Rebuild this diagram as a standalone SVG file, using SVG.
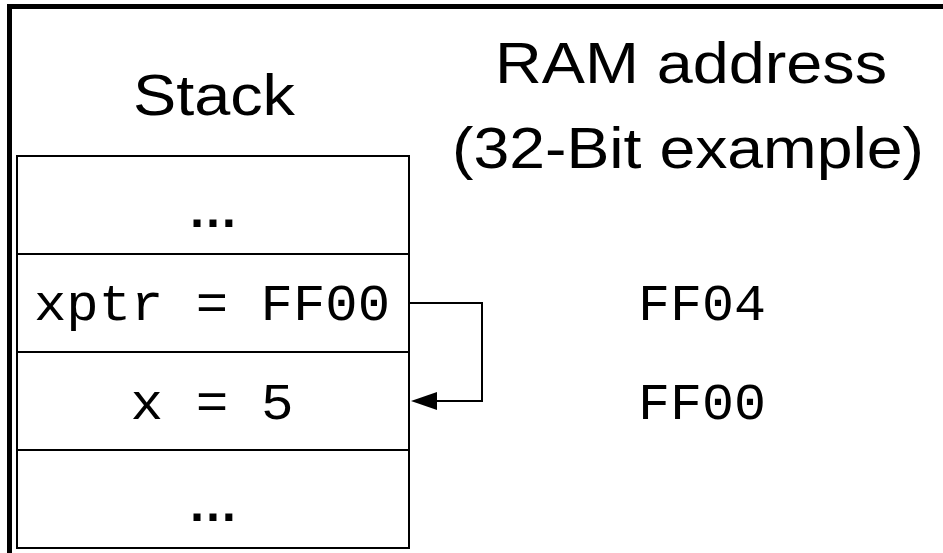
<svg xmlns="http://www.w3.org/2000/svg" width="943" height="553" viewBox="0 0 943 553">
<style>
.sans{font-family:"Liberation Sans",Arial,sans-serif;font-size:57px;fill:#000;text-anchor:middle}
.mono{font-family:"Liberation Mono","Courier New",monospace;font-size:52px;fill:#000;text-anchor:middle}
.dots{font-family:"Liberation Sans",Arial,sans-serif;font-size:50px;font-weight:bold;fill:#000;text-anchor:middle}
.cell{fill:#fff;stroke:#000;stroke-width:2}
.conn{fill:none;stroke:#000;stroke-width:2}
</style>
<rect width="943" height="553" fill="#fff"/>
<g id="frame">
<path d="M9.5,553 V6.5 H943" fill="none" stroke="#000" stroke-width="5"/>
</g>
<g id="titles">
<text class="sans" x="214" y="115" textLength="162" lengthAdjust="spacingAndGlyphs">Stack</text>
<text class="sans" x="691" y="83" textLength="392" lengthAdjust="spacingAndGlyphs">RAM address</text>
<text class="sans" x="688" y="168" textLength="472" lengthAdjust="spacingAndGlyphs">(32-Bit example)</text>
</g>
<g id="cell-top">
<rect class="cell" x="17" y="156" width="392" height="98"/>
<text class="dots" x="213" y="227">…</text>
</g>
<g id="cell-xptr">
<rect class="cell" x="17" y="254" width="392" height="98"/>
<text class="mono" x="212" y="320" textLength="356" lengthAdjust="spacingAndGlyphs">xptr = FF00</text>
</g>
<g id="cell-x">
<rect class="cell" x="17" y="352" width="392" height="98"/>
<text class="mono" x="212" y="419" textLength="163" lengthAdjust="spacingAndGlyphs">x = 5</text>
</g>
<g id="cell-bottom">
<rect class="cell" x="17" y="450" width="392" height="98"/>
<text class="dots" x="213" y="521">…</text>
</g>
<g id="addresses">
<text class="mono" x="702" y="320" textLength="128" lengthAdjust="spacingAndGlyphs">FF04</text>
<text class="mono" x="702" y="419" textLength="128" lengthAdjust="spacingAndGlyphs">FF00</text>
</g>
<g id="connectors">
<path class="conn" d="M409,303 H482 V401 H436"/>
<polygon points="411,401 437,392 437,410" fill="#000"/>
</g>
</svg>
